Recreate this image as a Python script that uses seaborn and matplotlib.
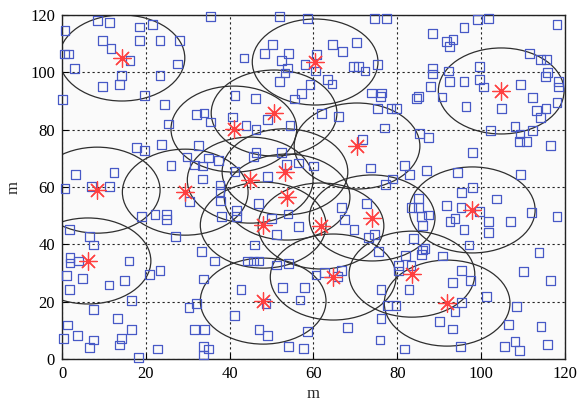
import numpy as np
import pandas as pd
import matplotlib
matplotlib.use("Agg")
import matplotlib.pyplot as plt
from matplotlib.patches import Circle
import seaborn as sns

# Cluster heads (m)
head_x = [14.3, 60.4, 104.8, 50.6, 41.0, 70.4, 8.4, 29.4, 44.9, 53.2,
          53.7, 48.0, 61.8, 74.0, 97.9, 6.2, 64.7, 83.5, 48.0, 91.9]
head_y = [105.0, 103.6, 93.5, 85.8, 80.2, 74.3, 58.9, 58.2, 62.4, 65.3,
          56.5, 46.7, 46.4, 49.2, 52.0, 34.2, 28.6, 29.6, 20.2, 19.5]

# Communication radius of each cluster head (m)
radius = 15.0

# Sensor nodes (m)
node_x = [
    8.5, 11.3, 18.5, 21.6, 0.7, 9.7, 11.7, 18.5, 23.4, 28.0, 0.5, 1.6, 16.2, 27.6, 2.9, 14.2,
    23.4, 9.7, 13.8, 0.2, 19.6, 24.4, 25.4, 17.8, 19.6, 23.8, 26.0, 29.8, 3.3, 12.4, 7.1, 11.3,
    0.7, 19.0, 22.2, 25.0, 25.0, 1.7, 6.5, 27.0, 7.5, 1.9, 1.9, 3.9, 16.0, 1.1, 4.9, 20.8,
    23.4, 14.9, 11.2, 1.7, 16.5, 7.5, 30.3, 13.3, 1.3, 16.5, 3.7, 0.3, 7.6, 14.2, 6.5, 13.8,
    22.8, 18.2,
    35.5, 51.9, 58.5, 50.3, 48.4, 43.4, 54.0, 52.4, 53.8, 53.2, 58.0, 60.4, 51.9, 59.2, 57.2,
    55.4, 41.3, 46.1, 32.1, 33.9, 35.5, 40.7, 49.1, 43.9, 46.3, 54.4, 62.0, 32.5, 34.9, 37.3,
    31.7, 33.5, 46.3, 45.6, 52.3, 53.5, 41.3, 33.5, 37.7, 37.7, 49.1, 56.4, 60.0,
    30.5, 37.9, 46.9, 41.7, 38.1, 41.7, 50.0, 53.9, 56.4, 51.2, 45.9, 33.3, 36.4, 44.2, 45.6,
    47.0, 51.2, 54.0, 60.6, 33.7, 42.7, 52.7, 57.8, 56.8, 48.7, 32.1, 41.1, 31.7, 34.0, 47.0,
    49.1, 58.6, 33.7, 34.9, 33.7, 54.0, 57.6,
    74.5, 77.5, 88.5, 64.5, 70.2, 67.0, 60.8, 69.5, 70.7, 72.3, 75.3, 63.3, 64.4, 73.9, 76.3,
    76.0, 88.5, 88.5, 88.0, 84.5, 85.0, 90.7, 65.9, 75.2, 78.5, 79.9, 76.9, 85.3, 87.4, 71.7,
    73.7, 81.7, 82.9, 87.0, 78.9, 77.1,
    66.6, 72.7, 67.5, 69.7, 73.1, 74.5, 75.5, 85.0, 83.4, 85.0, 87.4, 85.8, 86.1, 83.8, 86.1,
    86.6, 85.7, 81.9, 90.8, 80.3, 80.3, 83.3, 62.6, 66.7, 65.8, 76.1, 82.8, 77.7, 79.7, 76.1,
    68.1, 90.0, 75.9, 81.7,
    99.2, 101.7, 95.9, 118.1, 91.8, 93.3, 92.4, 111.6, 114.1, 115.7, 99.6, 92.2, 115.8, 115.3,
    92.4, 95.9, 99.6, 100.6, 109.5, 118.4, 118.4, 112.3, 118.1, 96.4, 104.9, 113.3, 115.5,
    114.1, 102.3, 108.1, 109.3, 112.3, 109.1, 110.9, 116.5, 98.0, 94.3, 109.5,
    95.4, 98.0, 103.7, 91.8, 95.2, 99.6, 112.1, 118.1, 92.6, 93.8, 101.7, 107.1, 95.9, 101.7,
    97.1, 113.8, 95.4, 110.1, 97.5, 93.2, 116.5, 101.3, 95.4, 108.5, 93.8, 93.2, 106.5, 114.3,
    108.1, 105.6, 109.1, 115.9, 95.0,
]
node_y = [
    118.0, 117.4, 115.8, 116.6, 114.5, 111.1, 108.2, 111.1, 111.1, 111.1, 106.4, 106.4, 104.0,
    102.9, 101.3, 98.8, 98.8, 95.0, 95.7, 90.5, 91.9, 88.7, 82.0, 73.8, 72.6, 74.9, 67.4, 70.5,
    64.3, 65.1, 60.3, 60.3,
    59.5, 49.6, 50.5, 50.4, 48.8, 45.2, 42.7, 42.7, 39.8, 35.5, 33.5, 34.2, 34.2, 29.1, 28.1,
    29.5, 31.0, 27.3, 25.8, 24.3, 20.3, 17.3, 17.9, 14.2, 11.9, 10.3, 8.1, 7.2, 6.6, 7.2, 4.1,
    4.9, 3.5, 0.5,
    119.5, 119.5, 118.7, 109.6, 106.5, 105.0, 106.5, 104.2, 101.5, 99.8, 102.6, 100.5, 96.8,
    95.7, 92.6, 90.7, 91.9, 90.8, 85.2, 85.8, 82.7, 84.4, 83.5, 81.5, 80.0, 81.5, 85.6, 74.4,
    70.1, 69.2, 67.7, 67.3, 72.0, 70.6, 72.0, 67.9, 65.4, 62.8, 60.7, 58.4, 63.7, 68.4, 67.3,
    54.9, 55.1, 54.3, 51.9, 49.6, 49.6, 49.0, 50.6, 46.2, 43.5, 39.8, 37.5, 34.2, 34.2, 34.2,
    34.2, 32.8, 33.3, 29.3, 27.9, 24.3, 24.9, 24.9, 20.6, 19.4, 19.4, 15.1, 10.3, 10.3, 10.3,
    8.1, 9.5, 4.5, 3.5, 1.4, 4.3, 3.7,
    118.7, 118.7, 113.5, 109.6, 110.4, 107.3, 106.1, 102.0, 102.0, 100.5, 102.6, 97.5, 95.9,
    92.8, 92.8, 91.6, 101.5, 99.4, 95.0, 90.8, 91.6, 91.4, 84.6, 87.5, 87.5, 87.5, 80.6, 78.8,
    77.4, 76.5, 66.6, 67.4, 64.3, 65.8, 62.8, 61.0,
    52.9, 54.3, 48.8, 45.2, 42.3, 43.5, 37.4, 56.0, 52.9, 52.9, 50.2, 49.6, 46.7, 42.0, 38.0,
    38.6, 36.5, 36.1, 35.9, 32.6, 30.7, 32.6, 30.2, 31.0, 28.7, 24.3, 24.3, 18.8, 18.8, 14.2,
    11.0, 13.0, 6.6, 3.5,
    118.5, 118.7, 115.6, 116.6, 110.8, 111.4, 109.0, 106.5, 104.5, 104.5, 102.0, 100.5, 99.9,
    98.5, 96.8, 96.8, 97.4, 94.9, 95.7, 96.8, 94.9, 91.2, 89.6, 88.1, 87.5, 86.6, 87.3, 84.3,
    79.6, 81.1, 78.5, 79.6, 75.9, 75.9, 74.4, 72.0, 65.1, 64.3,
    58.1, 59.8, 55.8, 53.5, 52.9, 51.5, 51.1, 49.6, 48.1, 48.9, 48.1, 48.1, 45.2, 44.1, 39.8,
    37.2, 31.0, 30.5, 27.5, 26.6, 27.3, 21.9, 19.6, 18.2, 16.5, 10.5, 12.1, 11.3, 6.0, 4.3,
    2.9, 5.1, 4.3,
]

x_ticks = [0, 20, 40, 60, 80, 100, 120]
y_ticks = [0, 20, 40, 60, 80, 100, 120]

sns.set_theme(style="white")
plt.rcParams["font.family"] = ["Liberation Serif", "DejaVu Serif"]

fig = plt.figure(figsize=(5.77, 4.01), dpi=100)
ax = fig.add_axes([0.1075, 0.1047, 0.8715, 0.8579])
ax.set_facecolor("#fafafa")

nodes = pd.DataFrame({"x": node_x, "y": node_y})
heads = pd.DataFrame({"x": head_x, "y": head_y})

# coverage circles around every cluster head
for cx, cy in zip(head_x, head_y):
    ax.add_patch(Circle((cx, cy), radius, fill=False, edgecolor="#2e2e2e",
                        linewidth=0.9, zorder=2))

sns.scatterplot(data=nodes, x="x", y="y", ax=ax, marker="s", s=40,
                facecolor="none", edgecolor="#4759c6", linewidth=0.9,
                zorder=3, clip_on=False, legend=False)
sns.scatterplot(data=heads, x="x", y="y", ax=ax, marker=(8, 2, 0), s=160,
                color="#ff4040", edgecolor="#ff4040", linewidth=0.9,
                zorder=4, legend=False)

ax.set_xlim(0, 120)
ax.set_ylim(0, 120)
ax.set_xticks(x_ticks)
ax.set_yticks(y_ticks)
ax.set_xticklabels([str(t) for t in x_ticks], fontsize=12)
ax.set_yticklabels([str(t) for t in y_ticks], fontsize=12)
ax.grid(True, color="#222222", linestyle=(0, (2, 2.5)), linewidth=0.8)
ax.set_axisbelow(True)
ax.tick_params(direction="in", length=4, width=0.8, colors="black", pad=5,
               bottom=True, left=True)
for side in ax.spines.values():
    side.set_color("#222222")
    side.set_linewidth(1.0)

ax.set_xlabel("m", fontsize=12, labelpad=3)
ax.set_ylabel("m", fontsize=12, labelpad=6)

fig.savefig("out.png", dpi=100, facecolor="white")
